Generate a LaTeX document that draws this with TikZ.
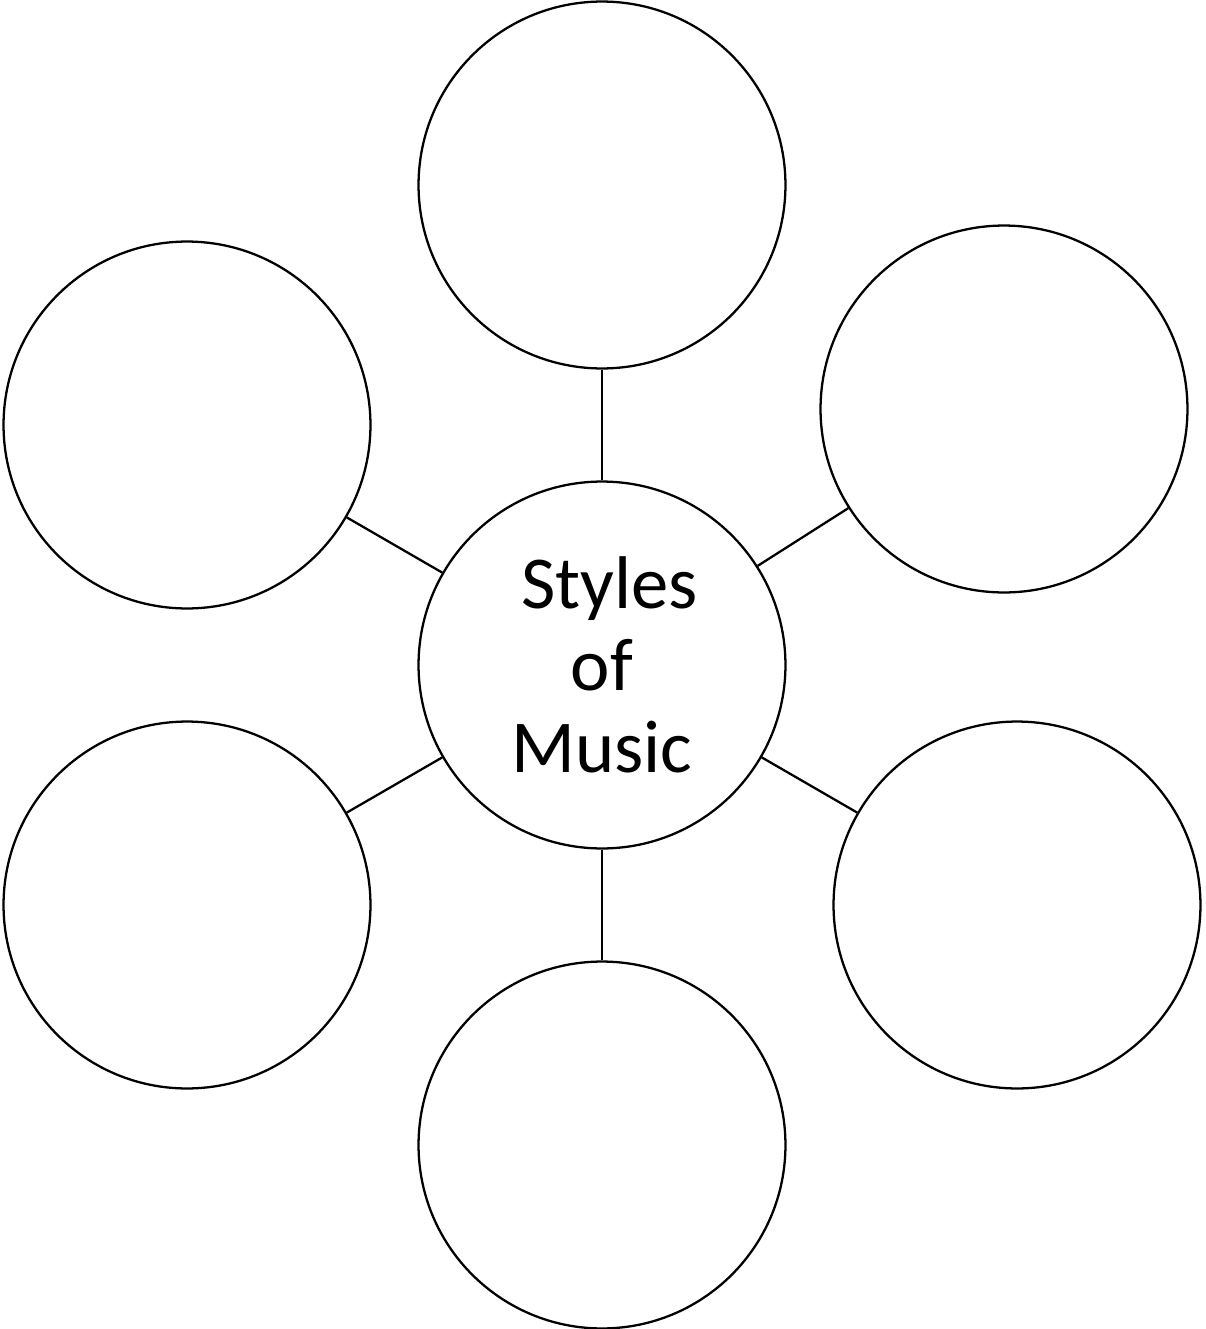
\documentclass[tikz,border=0pt]{standalone}
\usepackage{fontspec}
\setmainfont{Carlito}
\begin{document}
\begin{tikzpicture}[x=0.02cm,y=-0.02cm,
  bubble/.style={circle,draw=black,line width=1.3pt,minimum size=7.34cm,inner sep=0pt,fill=white},
  link/.style={draw=black,line width=1.3pt}]
\useasboundingbox (0,0) rectangle (1205,1329);
\node[bubble,align=center,font=\fontsize{42.5}{46.5}\selectfont] (c) at (602,665) {\hspace*{0.3cm}Styles\\of\\Music};
\node[bubble] (t) at (602,185) {};
\node[bubble] (ul) at (187,425) {};
\node[bubble] (ur) at (1004,409) {};
\node[bubble] (ll) at (187,905) {};
\node[bubble] (lr) at (1017,905) {};
\node[bubble] (b) at (602,1145) {};
\draw[link] (c) -- (t);
\draw[link] (c) -- (ul);
\draw[link] (c) -- (ur);
\draw[link] (c) -- (ll);
\draw[link] (c) -- (lr);
\draw[link] (c) -- (b);
\end{tikzpicture}
\end{document}
